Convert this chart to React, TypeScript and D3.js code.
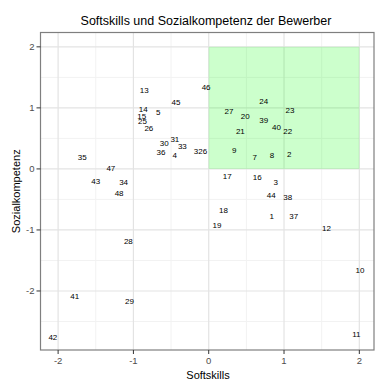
import React from 'react';
import * as d3 from 'd3';

// Bewerber-IDs und ihre Werte
const ids = [
  1, 2, 3, 4, 5, 6, 7, 8, 9, 10, 11, 12, 13, 14, 15, 16, 17, 18, 19, 20, 21, 22, 23, 24,
  25, 26, 27, 28, 29, 30, 31, 32, 33, 34, 35, 36, 37, 38, 39, 40, 41, 42, 43, 44, 45, 46, 47, 48,
];
const softskills = [
  0.836, 1.07, 0.89, -0.45, -0.67, -0.05, 0.61, 0.84, 0.34, 2.01, 1.96, 1.565,
  -0.857, -0.87, -0.89, 0.645, 0.245, 0.196, 0.11, 0.485, 0.42, 1.05, 1.08, 0.73,
  -0.88, -0.795, 0.27, -1.067, -1.053, -0.59, -0.45, -0.14, -0.35, -1.13, -1.68, -0.635,
  1.13, 1.05, 0.73, 0.9, -1.78, -2.07, -1.5, 0.83, -0.435, -0.035, -1.3, -1.19,
];
const sozialkompetenz = [
  -0.78, 0.24, -0.22, 0.22, 0.93, 0.29, 0.19, 0.22, 0.3, -1.66, -2.71, -0.98,
  1.28, 0.97, 0.86, -0.14, -0.12, -0.68, -0.93, 0.86, 0.61, 0.61, 0.95, 1.1,
  0.78, 0.66, 0.94, -1.19, -2.18, 0.41, 0.49, 0.29, 0.36, -0.23, 0.18, 0.27,
  -0.78, -0.47, 0.79, 0.68, -2.09, -2.76, -0.21, -0.43, 1.09, 1.34, 0.01, -0.4,
];
const xTicks = [-2, -1, 0, 1, 2];
const yTicks = [-2, -1, 0, 1, 2];
const xMinor = [-1.5, -0.5, 0.5, 1.5];
const yMinor = [-2.5, -1.5, -0.5, 0.5, 1.5];
// markierter Bereich: beide Werte positiv
const zoneX = [0, 2];
const zoneY = [0, 2];

const W = 390, H = 390;
const panel = { left: 40.5, right: 374, top: 32.5, bottom: 350 };
const font = 'Arial, "Liberation Sans", Helvetica, sans-serif';

export default function App() {
  const x = d3.scaleLinear().domain([-2.234, 2.195]).range([panel.left, panel.right]);
  const y = d3.scaleLinear().domain([-2.967, 2.235]).range([panel.bottom, panel.top]);

  return (
    <svg width={W} height={H} style={{ position: 'absolute', left: 0, top: 0, background: '#fff' }}>
      {/* minor grid */}
      {xMinor.map(v => (
        <line key={'xm' + v} x1={x(v)} x2={x(v)} y1={panel.top} y2={panel.bottom} stroke="#f2f2f2" strokeWidth={1} />
      ))}
      {yMinor.map(v => (
        <line key={'ym' + v} y1={y(v)} y2={y(v)} x1={panel.left} x2={panel.right} stroke="#f2f2f2" strokeWidth={1} />
      ))}
      {/* major grid */}
      {xTicks.map(v => (
        <line key={'xg' + v} x1={x(v)} x2={x(v)} y1={panel.top} y2={panel.bottom} stroke="#e3e3e3" strokeWidth={1.2} />
      ))}
      {yTicks.map(v => (
        <line key={'yg' + v} y1={y(v)} y2={y(v)} x1={panel.left} x2={panel.right} stroke="#e3e3e3" strokeWidth={1.2} />
      ))}

      <rect
        x={x(zoneX[0])}
        y={y(zoneY[1])}
        width={x(zoneX[1]) - x(zoneX[0])}
        height={y(zoneY[0]) - y(zoneY[1])}
        fill="#00ff00"
        fillOpacity={0.2}
      />

      {ids.map((id, i) => (
        <text
          key={id}
          x={x(softskills[i])}
          y={y(sozialkompetenz[i])}
          textAnchor="middle"
          dominantBaseline="central"
          fontFamily={font}
          fontSize={8}
          fill="#000"
        >
          {id}
        </text>
      ))}

      <rect
        x={panel.left}
        y={panel.top}
        width={panel.right - panel.left}
        height={panel.bottom - panel.top}
        fill="none"
        stroke="#7f7f7f"
        strokeWidth={1.2}
      />

      {/* x axis ticks */}
      {xTicks.map(v => (
        <g key={'xt' + v}>
          <line x1={x(v)} x2={x(v)} y1={panel.bottom} y2={panel.bottom + 4} stroke="#333" strokeWidth={1} />
          <text x={x(v)} y={panel.bottom + 14} textAnchor="middle" fontFamily={font} fontSize={9.5} fill="#4d4d4d">
            {v}
          </text>
        </g>
      ))}
      {yTicks.map(v => (
        <g key={'yt' + v}>
          <line x1={panel.left - 4} x2={panel.left} y1={y(v)} y2={y(v)} stroke="#333" strokeWidth={1} />
          <text x={panel.left - 6} y={y(v)} textAnchor="end" dominantBaseline="central" fontFamily={font} fontSize={9.5} fill="#4d4d4d">
            {v}
          </text>
        </g>
      ))}

      <text x={208} y={379} textAnchor="middle" fontFamily={font} fontSize={11} fill="#000">
        Softskills
      </text>
      <text
        transform={`translate(20, ${(panel.top + panel.bottom) / 2}) rotate(-90)`}
        textAnchor="middle"
        fontFamily={font}
        fontSize={11}
        fill="#000"
      >
        Sozialkompetenz
      </text>
      <text x={206} y={25} textAnchor="middle" fontFamily={font} fontSize={12.5} fill="#000">
        Softskills und Sozialkompetenz der Bewerber
      </text>
    </svg>
  );
}
